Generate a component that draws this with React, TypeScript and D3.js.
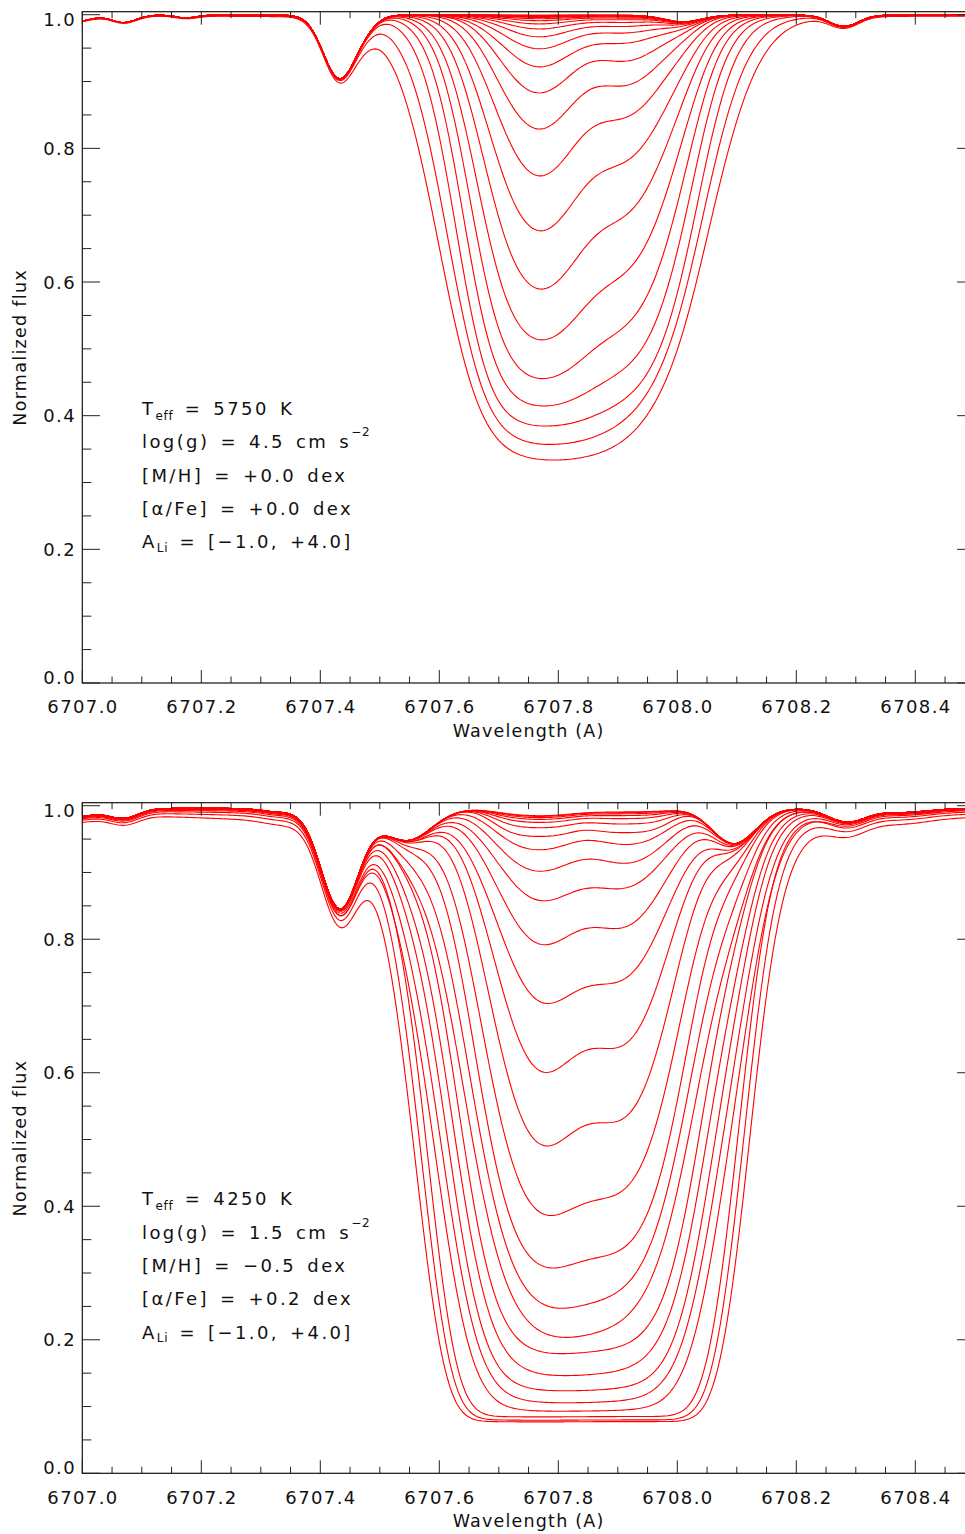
import React, { useMemo } from "react";
import * as d3 from "d3";

// ---------------- data ----------------
const aLiGrid = [-1.0, -0.8, -0.6, -0.4, -0.2, 0.0, 0.2, 0.4, 0.6, 0.8, 1.0, 1.2, 1.4, 1.6, 1.8, 2.0, 2.2, 2.4, 2.6, 2.8, 3.0, 3.2, 3.4, 3.6, 3.8, 4.0];

// flux at the main Li component (6707.766 A), one per A(Li)
const coreFluxTop = [0.9991, 0.999, 0.9989, 0.9987, 0.9984, 0.9979, 0.9971, 0.9959, 0.994, 0.991, 0.9862, 0.9787, 0.967, 0.949, 0.922, 0.883, 0.829, 0.759, 0.677, 0.59, 0.514, 0.456, 0.415, 0.385, 0.358, 0.335];
const coreFluxBottom = [0.985, 0.984, 0.9822, 0.9795, 0.975, 0.967, 0.954, 0.934, 0.902, 0.8585, 0.7935, 0.708, 0.6045, 0.495, 0.393, 0.314, 0.258, 0.215, 0.1835, 0.15, 0.1255, 0.107, 0.0935, 0.0845, 0.0795, 0.077];

// flux at the second Li component (6707.915 A)
const secondFluxTop = [0.9991, 0.9991, 0.999, 0.9989, 0.9988, 0.9985, 0.9981, 0.9975, 0.9965, 0.9949, 0.9924, 0.9885, 0.9826, 0.973, 0.958, 0.931, 0.895, 0.848, 0.783, 0.703, 0.618, 0.538, 0.475, 0.4286, 0.398, 0.368];
const secondFluxBottom = [0.9856, 0.9847, 0.9831, 0.9808, 0.977, 0.97, 0.959, 0.9417, 0.914, 0.878, 0.8205, 0.745, 0.647, 0.5375, 0.431, 0.343, 0.285, 0.237, 0.1945, 0.158, 0.13, 0.11, 0.095, 0.086, 0.081, 0.079];

// wavelength where the blue wall reaches half of the core depth
const halfBlueTop = [6707.702, 6707.702, 6707.702, 6707.702, 6707.702, 6707.702, 6707.702, 6707.702, 6707.702, 6707.702, 6707.702, 6707.702, 6707.702, 6707.701, 6707.699, 6707.696, 6707.692, 6707.687, 6707.68, 6707.672, 6707.662, 6707.651, 6707.639, 6707.626, 6707.612, 6707.597];
const halfBlueBottom = [6707.69, 6707.69, 6707.69, 6707.69, 6707.69, 6707.69, 6707.69, 6707.69, 6707.69, 6707.69, 6707.69, 6707.688, 6707.685, 6707.678, 6707.667, 6707.656, 6707.646, 6707.636, 6707.626, 6707.616, 6707.606, 6707.596, 6707.586, 6707.576, 6707.566, 6707.556];

// flux at the foot of the blue wall (6707.5 A) for the strongest curves (0 = not readable)
const footFluxTop = [0, 0, 0, 0, 0, 0, 0, 0, 0, 0, 0, 0, 0, 0, 0, 0, 0, 0, 0, 0, 0, 0, 0, 0, 0, 0];
const footFluxBottom = [0, 0, 0, 0, 0, 0, 0, 0, 0, 0, 0, 0, 0, 0, 0, 0, 0, 0, 0, 0, 0, 0, 0, 0.918, 0.897, 0.868];
const footLam = 6707.5;

// blend lines (center A, depth, 1/e half width A) read from the upper envelope
const blendCenterTop = [6706.985, 6707.07, 6707.175, 6707.432, 6707.475, 6708.01, 6708.28];
const blendDepthTop = [0.01, 0.011, 0.004, 0.094, 0.012, 0.01, 0.017];
const blendWidthTop = [0.04, 0.03, 0.025, 0.038, 0.03, 0.045, 0.035];

const blendCenterBottom = [6706.99, 6707.07, 6707.33, 6707.433, 6707.545, 6707.77, 6708.095, 6708.285, 6708.38];
const blendDepthBottom = [0.012, 0.014, 0.005, 0.15, 0.048, 0.006, 0.053, 0.02, 0.006];
const blendWidthBottom = [0.05, 0.035, 0.04, 0.045, 0.06, 0.08, 0.052, 0.045, 0.06];

// Li doublet: [line1, line2, relative strength of line2, far-wing strength at A(Li)=4, max opacity, smoothing (A), continuum]
const liDoubletTop = [6707.766, 6707.917, 0.5, 0.0006, 60, 0.012, 0.9995];
const liDoubletBottom = [6707.766, 6707.917, 0.85, 0.0042, 60, 0.02, 0.996];

const xMajor = [6707.0, 6707.2, 6707.4, 6707.6, 6707.8, 6708.0, 6708.2, 6708.4];
const xMajorLabels = ["6707.0", "6707.2", "6707.4", "6707.6", "6707.8", "6708.0", "6708.2", "6708.4"];
const yMajor = [0.0, 0.2, 0.4, 0.6, 0.8, 1.0];
const yMajorLabels = ["0.0", "0.2", "0.4", "0.6", "0.8", "1.0"];

const teffValues = ["5750", "4250"];
const loggValues = ["4.5", "1.5"];
const mhValues = ["+0.0", "\u22120.5"];
const afeValues = ["+0.0", "+0.2"];
const aLiRangeText = "[\u22121.0, +4.0]";

// ---------------- layout ----------------
const W = 965;
const H = 1534;
const X0 = 82.3;
const X1 = 974.8;
const panelsY = [
  { top: 11.7, bottom: 683 },
  { top: 802.7, bottom: 1473.3 },
];
const FONT = "'DejaVu Sans', 'Liberation Sans', sans-serif";

function blendFlux(lam: number, cont: number, c: number[], d: number[], w: number[]) {
  let f = cont;
  for (let i = 0; i < c.length; i++) {
    const x = (lam - c[i]) / w[i];
    f *= 1 - d[i] * Math.exp(-x * x);
  }
  return f;
}

function makeShape(l1: number, l2: number, r2: number) {
  const phi = (lam: number, sig: number) => {
    const a = (lam - l1) / sig;
    const b = (lam - l2) / sig;
    return Math.exp(-a * a) + r2 * Math.exp(-b * b);
  };
  const s = (lam: number, sig: number, tau: number) => (1 - Math.exp(-tau * phi(lam, sig))) / (1 - Math.exp(-tau * phi(l1, sig)));
  return { phi, s };
}
type Shape = ReturnType<typeof makeShape>;

function tauForPoint(shape: Shape, lam: number, sig: number, target: number, tauMax: number) {
  let lo = Math.log(1e-4);
  let hi = Math.log(tauMax);
  if (shape.s(lam, sig, Math.exp(lo)) >= target) return Math.exp(lo);
  if (shape.s(lam, sig, Math.exp(hi)) <= target) return Math.exp(hi);
  for (let i = 0; i < 50; i++) {
    const m = 0.5 * (lo + hi);
    if (shape.s(lam, sig, Math.exp(m)) < target) lo = m;
    else hi = m;
  }
  return Math.exp(0.5 * (lo + hi));
}

// profile through the read second-component depth and blue half-depth point
function fitSecond(shape: Shape, l2: number, s2: number, lb: number, tauMax: number) {
  let a = 0.03;
  let b = 0.3;
  for (let i = 0; i < 50; i++) {
    const m = 0.5 * (a + b);
    const t = tauForPoint(shape, l2, m, s2, tauMax);
    if (shape.s(lb, m, t) < 0.5) a = m;
    else b = m;
  }
  const sig = 0.5 * (a + b);
  return { sig, tau: tauForPoint(shape, l2, sig, s2, tauMax) };
}

// profile through the blue half-depth point and the read foot of the wall
function fitFoot(shape: Shape, lb: number, lf: number, sf: number, tauMax: number) {
  let a = 0.03;
  let b = 0.3;
  for (let i = 0; i < 50; i++) {
    const m = 0.5 * (a + b);
    const t = tauForPoint(shape, lb, m, 0.5, tauMax);
    if (shape.s(lf, m, t) < sf) a = m;
    else b = m;
  }
  const sig = 0.5 * (a + b);
  return { sig, tau: tauForPoint(shape, lb, sig, 0.5, tauMax) };
}

function synthCurve(k: number, idx: number) {
  const doublet = idx === 0 ? liDoubletTop : liDoubletBottom;
  const [l1, l2, r2, wing, tauMax, smooth, cont] = doublet;
  const core = idx === 0 ? coreFluxTop : coreFluxBottom;
  const second = idx === 0 ? secondFluxTop : secondFluxBottom;
  const halfB = idx === 0 ? halfBlueTop : halfBlueBottom;
  const foot = idx === 0 ? footFluxTop : footFluxBottom;
  const bc = idx === 0 ? blendCenterTop : blendCenterBottom;
  const bd = idx === 0 ? blendDepthTop : blendDepthBottom;
  const bw = idx === 0 ? blendWidthTop : blendWidthBottom;
  const shape = makeShape(l1, l2, r2);
  const B1 = blendFlux(l1, cont, bc, bd, bw);
  const B2 = blendFlux(l2, cont, bc, bd, bw);
  const D = Math.max(1e-6, 1 - core[k] / B1);
  let fit;
  if (foot[k] > 0) {
    const Bf = blendFlux(footLam, cont, bc, bd, bw);
    const sf = Math.min(0.45, Math.max(1e-4, (1 - foot[k] / Bf) / D));
    fit = fitFoot(shape, halfB[k], footLam, sf, tauMax);
  } else {
    const s2 = Math.min(0.999, Math.max(0.05, (1 - second[k] / B2) / D));
    fit = fitSecond(shape, l2, s2, halfB[k], tauMax);
  }
  const { sig, tau } = fit;
  const wk = wing * Math.pow(10, aLiGrid[k] - aLiGrid[aLiGrid.length - 1]);

  // Li absorption factor on a fine grid, then smoothed
  const step = 0.002;
  const lo = 6706.9;
  const n = Math.round((6708.6 - lo) / step) + 1;
  const absorb = new Float64Array(n);
  for (let i = 0; i < n; i++) {
    const lam = lo + i * step;
    const s = shape.s(lam, sig, tau);
    const d1 = lam - l1;
    const d2 = lam - l2;
    const wingDepth = wk * (1 / (d1 * d1 + 0.15) + r2 / (d2 * d2 + 0.15));
    absorb[i] = 1 - (1 - D * s) * (1 - wingDepth * (1 - s));
  }
  const hw = Math.ceil((3.5 * smooth) / step);
  const ker: number[] = [];
  let ksum = 0;
  for (let j = -hw; j <= hw; j++) {
    const v = Math.exp(-0.5 * Math.pow((j * step) / smooth, 2));
    ker.push(v);
    ksum += v;
  }
  const sm = new Float64Array(n);
  for (let i = 0; i < n; i++) {
    let acc = 0;
    for (let j = -hw; j <= hw; j++) {
      const ii = Math.min(n - 1, Math.max(0, i + j));
      acc += absorb[ii] * ker[j + hw];
    }
    sm[i] = acc / ksum;
  }
  const ic = Math.round((l1 - lo) / step);
  const scale = sm[ic] > 0 ? D / sm[ic] : 1;
  const pts: [number, number][] = [];
  for (let i = 0; i < n; i += 2) {
    const lam = lo + i * step;
    if (lam < 6706.98 || lam > 6708.52) continue;
    const a = Math.min(0.999, sm[i] * scale);
    pts.push([lam, blendFlux(lam, cont, bc, bd, bw) * (1 - a)]);
  }
  return pts;
}

function InfoBlock({ idx, baseY }: { idx: number; baseY: number }) {
  const x = 142;
  const dyL = 33.3;
  const common = { fontFamily: FONT, fontSize: 18, letterSpacing: 2.4, wordSpacing: 3, fill: "#111", style: { whiteSpace: "pre" as const } };
  return (
    <g>
      <text x={x} y={baseY} {...common}>
        <tspan>T</tspan>
        <tspan dy={4.5} fontSize={12} letterSpacing={0.8}>eff</tspan>
        <tspan dy={-4.5}>{` = ${teffValues[idx]} K`}</tspan>
      </text>
      <text x={x} y={baseY + dyL} {...common}>
        <tspan>{`log(g) = ${loggValues[idx]} cm s`}</tspan>
        <tspan dy={-12} fontSize={12} letterSpacing={0.8}>{"\u22122"}</tspan>
      </text>
      <text x={x} y={baseY + 2 * dyL} {...common}>{`[M/H] = ${mhValues[idx]} dex`}</text>
      <text x={x} y={baseY + 3 * dyL} {...common}>{`[\u03b1/Fe] = ${afeValues[idx]} dex`}</text>
      <text x={x} y={baseY + 4 * dyL} {...common}>
        <tspan>A</tspan>
        <tspan dy={3.5} fontSize={12} letterSpacing={0.8}>Li</tspan>
        <tspan dy={-3.5}>{` = ${aLiRangeText}`}</tspan>
      </text>
    </g>
  );
}

function Panel({ idx }: { idx: number }) {
  const { top, bottom } = panelsY[idx];
  const x = d3.scaleLinear().domain([6707.0, 6708.5]).range([X0, X1]);
  const y = d3.scaleLinear().domain([0, 1.0045]).range([bottom, top]);
  const curves = useMemo(() => aLiGrid.map((_, k) => synthCurve(k, idx)), [idx]);
  const line = d3
    .line<[number, number]>()
    .x((d) => x(d[0]))
    .y((d) => y(d[1]));
  const clipId = `clip${idx}`;
  const xMinor = d3.range(0, 31).map((i) => 6707.0 + i * 0.05);
  const yMinor = d3.range(0, 21).map((i) => i * 0.05);
  const tickColor = "#222";
  return (
    <g>
      <defs>
        <clipPath id={clipId}>
          <rect x={X0} y={top} width={X1 - X0} height={bottom - top} />
        </clipPath>
      </defs>
      <g clipPath={`url(#${clipId})`}>
        {curves.map((c, k) => (
          <path key={k} d={line(c) || ""} fill="none" stroke="#ff0000" strokeWidth={1.1} />
        ))}
      </g>
      <rect x={X0} y={top} width={X1 - X0} height={bottom - top} fill="none" stroke="#111" strokeWidth={1.2} />
      {xMinor.map((v, i) => {
        const major = i % 4 === 0;
        const len = major ? 13 : 6.5;
        return (
          <g key={`xt${i}`}>
            <line x1={x(v)} x2={x(v)} y1={bottom} y2={bottom - len} stroke={tickColor} strokeWidth={1} />
            <line x1={x(v)} x2={x(v)} y1={top} y2={top + len} stroke={tickColor} strokeWidth={1} />
          </g>
        );
      })}
      {yMinor.map((v, i) => {
        const major = i % 4 === 0;
        const len = major ? 17.7 : 9;
        return (
          <g key={`yt${i}`}>
            <line x1={X0} x2={X0 + len} y1={y(v)} y2={y(v)} stroke={tickColor} strokeWidth={1} />
            <line x1={X1} x2={X1 - len} y1={y(v)} y2={y(v)} stroke={tickColor} strokeWidth={1} />
          </g>
        );
      })}
      {xMajor.map((v, i) => (
        <text key={`xl${i}`} x={x(v) + 0.7} y={bottom + 30.3} textAnchor="middle" fontFamily={FONT} fontSize={18} letterSpacing={1.4} fill="#111">
          {xMajorLabels[i]}
        </text>
      ))}
      {yMajor.map((v, i) => {
        let base = y(v) + 6.6;
        if (i === 0) base = y(v) + 0.8;
        if (i === yMajor.length - 1) base = y(v) + 11.6;
        return (
          <text key={`yl${i}`} x={76} y={base} textAnchor="end" fontFamily={FONT} fontSize={18} letterSpacing={1.4} fill="#111">
            {yMajorLabels[i]}
          </text>
        );
      })}
      <text x={(X0 + X1) / 2} y={bottom + 54} textAnchor="middle" fontFamily={FONT} fontSize={17.5} letterSpacing={1.2} fill="#111">
        Wavelength (A)
      </text>
      <text transform={`translate(26,${(top + bottom) / 2}) rotate(-90)`} textAnchor="middle" fontFamily={FONT} fontSize={17.5} letterSpacing={1.3} fill="#111">
        Normalized flux
      </text>
      <InfoBlock idx={idx} baseY={idx === 0 ? 415 : 1205.3} />
    </g>
  );
}

export default function App() {
  return (
    <svg width={W} height={H} viewBox={`0 0 ${W} ${H}`} style={{ position: "absolute", left: 0, top: 0, background: "#fff" }}>
      <rect x={0} y={0} width={W} height={H} fill="#fff" />
      <Panel idx={0} />
      <Panel idx={1} />
    </svg>
  );
}
